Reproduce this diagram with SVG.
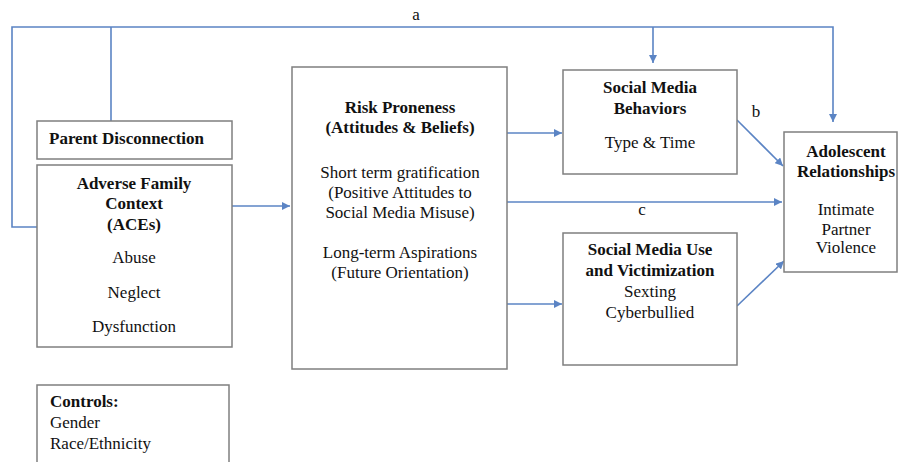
<svg xmlns="http://www.w3.org/2000/svg" width="899" height="462" viewBox="0 0 899 462" font-family="'Liberation Serif', 'Times New Roman', serif" font-size="17">
<style>
.box{fill:#fff;stroke:#7f7f7f;stroke-width:1.5}
.t{fill:#111;text-anchor:middle}
.b{font-weight:bold}
.l{text-anchor:start}
.c{fill:none;stroke:#5b84c4;stroke-width:1.6}
</style>
<defs>
<marker id="ah" viewBox="0 0 10 10" refX="10" refY="5" markerWidth="8" markerHeight="8" markerUnits="userSpaceOnUse" orient="auto">
<path d="M0,0 L10,5 L0,10 z" fill="#5b84c4"/>
</marker>
</defs>
<rect width="899" height="462" fill="#fff"/>
<g id="connectors">
<path class="c" d="M37,227 H12 V27 H833 V122" marker-end="url(#ah)"/>
<path class="c" d="M111,121 V27"/>
<path class="c" d="M653,27 V63" marker-end="url(#ah)"/>
<path class="c" d="M232,206 H290" marker-end="url(#ah)"/>
<path class="c" d="M507,133 H562" marker-end="url(#ah)"/>
<path class="c" d="M507,202 H782" marker-end="url(#ah)"/>
<path class="c" d="M507,304 H562" marker-end="url(#ah)"/>
<path class="c" d="M737,120 L783,166" marker-end="url(#ah)"/>
<path class="c" d="M737,306 L784,261" marker-end="url(#ah)"/>
<text class="t" x="416" y="20">a</text>
<text class="t" x="756" y="117">b</text>
<text class="t" x="642" y="215">c</text>
</g>
<g id="parent">
<rect class="box" x="37" y="121" width="195" height="38"/>
<text class="t b l" x="49" y="144">Parent Disconnection</text>
</g>
<g id="adverse">
<rect class="box" x="37" y="165" width="195" height="182"/>
<text class="t b" x="134" y="189">Adverse Family</text>
<text class="t b" x="134" y="209">Context</text>
<text class="t b" x="134" y="230">(ACEs)</text>
<text class="t" x="134" y="263">Abuse</text>
<text class="t" x="134" y="298">Neglect</text>
<text class="t" x="134" y="332">Dysfunction</text>
</g>
<g id="controls">
<rect class="box" x="37" y="385" width="192" height="90"/>
<text class="t b l" x="50" y="407">Controls:</text>
<text class="t l" x="50" y="428">Gender</text>
<text class="t l" x="50" y="449">Race/Ethnicity</text>
</g>
<g id="risk">
<rect class="box" x="292" y="67" width="215" height="302"/>
<text class="t b" x="400" y="113">Risk Proneness</text>
<text class="t b" x="400" y="133">(Attitudes &amp; Beliefs)</text>
<text class="t" x="400" y="178">Short term gratification</text>
<text class="t" x="400" y="198">(Positive Attitudes to</text>
<text class="t" x="400" y="218">Social Media Misuse)</text>
<text class="t" x="400" y="258">Long-term Aspirations</text>
<text class="t" x="400" y="278">(Future Orientation)</text>
</g>
<g id="smb">
<rect class="box" x="563" y="70" width="174" height="104"/>
<text class="t b" x="650" y="93">Social Media</text>
<text class="t b" x="650" y="114">Behaviors</text>
<text class="t" x="650" y="148">Type &amp; Time</text>
</g>
<g id="smu">
<rect class="box" x="563" y="233" width="174" height="132"/>
<text class="t b" x="650" y="255">Social Media Use</text>
<text class="t b" x="650" y="276">and Victimization</text>
<text class="t" x="650" y="297">Sexting</text>
<text class="t" x="650" y="318">Cyberbullied</text>
</g>
<g id="adolescent">
<rect class="box" x="784" y="132" width="113" height="140"/>
<text class="t b" x="846" y="157">Adolescent</text>
<text class="t b" x="846" y="177">Relationships</text>
<text class="t" x="846" y="215">Intimate</text>
<text class="t" x="846" y="235">Partner</text>
<text class="t" x="846" y="253">Violence</text>
</g>
</svg>
